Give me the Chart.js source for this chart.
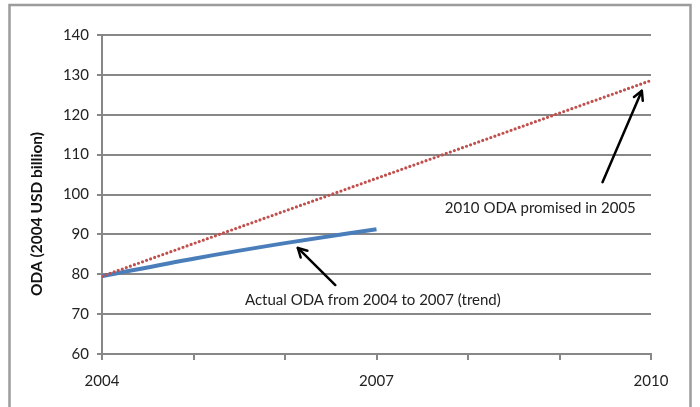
<!DOCTYPE html>
<html>
<head>
<meta charset="utf-8">
<script src="https://cdn.jsdelivr.net/npm/chart.js@4/dist/chart.umd.min.js"></script>
<style>
  html, body { margin: 0; padding: 0; background: #fff; }
  #wrap { width: 700px; height: 407px; }
</style>
</head>
<body>
<div id="wrap"><canvas id="c" width="700" height="407"></canvas></div>
<script>
// Years on the horizontal axis
const years = [2004, 2005, 2006, 2007, 2008, 2009, 2010];
const labelledYears = [2004, 2007, 2010];

// Actual ODA trend 2004-2007 (2004 USD billion)
const actualYears = [2004, 2005, 2006, 2007];
const actualODA = [79.5, 83.9, 87.8, 91.3];

// Promised path from 2004 level to the 2010 commitment
const promisedYears = [2004, 2010];
const promisedODA = [79.5, 128.6];

// Y axis range and step
const yMin = 60, yMax = 140, yStep = 10;

// Callout texts with their anchor (year, value) and arrows (tail -> tip)
const callouts = [
  { text: '2010 ODA promised in 2005', at: [2008.79, 96.6],
    from: [2009.47, 103.1], to: [2009.90, 126.0] },
  { text: 'Actual ODA from 2004 to 2007 (trend)', at: [2006.96, 73.4],
    from: [2006.55, 77.3], to: [2006.14, 86.6] }
];

const yTitle = 'ODA (2004 USD billion)';
const FONT = 'Lato, "Open Sans", sans-serif';
const GRID = '#878787';

const toXY = (xs, ys) => xs.map((x, i) => ({ x, y: ys[i] }));

const decorations = {
  id: 'decorations',
  beforeDraw(chart) {
    const ctx = chart.ctx;
    ctx.save();
    ctx.strokeStyle = '#9c9c9c';
    ctx.lineWidth = 2.5;
    ctx.strokeRect(9.5, 5, 681, 430);
    ctx.restore();
  },
  afterDraw(chart) {
    const ctx = chart.ctx;
    const sx = chart.scales.x, sy = chart.scales.y;
    ctx.save();
    // axis title
    ctx.fillStyle = '#111';
    ctx.font = 'bold 15.5px ' + FONT;
    ctx.textAlign = 'center';
    ctx.textBaseline = 'middle';
    ctx.translate(37, 214);
    ctx.rotate(-Math.PI / 2);
    ctx.fillText(yTitle, 0, 0);
    ctx.restore();

    ctx.save();
    for (const c of callouts) {
      const x1 = sx.getPixelForValue(c.from[0]), y1 = sy.getPixelForValue(c.from[1]);
      const x2 = sx.getPixelForValue(c.to[0]), y2 = sy.getPixelForValue(c.to[1]);
      ctx.strokeStyle = '#000';
      ctx.lineWidth = 2.5;
      ctx.lineCap = 'round';
      ctx.lineJoin = 'round';
      ctx.beginPath();
      ctx.moveTo(x1, y1);
      ctx.lineTo(x2, y2);
      ctx.stroke();
      const ang = Math.atan2(y2 - y1, x2 - x1);
      const L = 10, spread = 0.5;
      ctx.beginPath();
      ctx.moveTo(x2 - L * Math.cos(ang - spread), y2 - L * Math.sin(ang - spread));
      ctx.lineTo(x2, y2);
      ctx.lineTo(x2 - L * Math.cos(ang + spread), y2 - L * Math.sin(ang + spread));
      ctx.stroke();

      ctx.fillStyle = '#222';
      ctx.font = '15px ' + FONT;
      ctx.textAlign = 'center';
      ctx.textBaseline = 'middle';
      ctx.fillText(c.text, sx.getPixelForValue(c.at[0]), sy.getPixelForValue(c.at[1]));
    }
    ctx.restore();
  }
};

new Chart(document.getElementById('c'), {
  type: 'line',
  data: {
    datasets: [
      {
        label: 'Promised',
        data: toXY(promisedYears, promisedODA),
        borderColor: '#c0504d',
        borderWidth: 3.2,
        borderDash: [0, 4.3],
        borderCapStyle: 'round',
        pointRadius: 0,
        fill: false
      },
      {
        label: 'Actual',
        data: toXY(actualYears, actualODA),
        borderColor: '#4a7ebb',
        borderWidth: 4,
        cubicInterpolationMode: 'monotone',
        pointRadius: 0,
        fill: false
      }
    ]
  },
  options: {
    responsive: false,
    animation: false,
    layout: { padding: { left: 20, top: 35, right: 49, bottom: 0 } },
    plugins: { legend: { display: false }, tooltip: { enabled: false } },
    scales: {
      x: {
        type: 'linear',
        min: years[0],
        max: years[years.length - 1],
        afterBuildTicks(scale) { scale.ticks = years.map(v => ({ value: v })); },
        afterFit(scale) { scale.height = 53; },
        ticks: {
          autoSkip: false,
          maxRotation: 0,
          padding: 12,
          color: '#222',
          font: { family: FONT, size: 15 },
          callback: v => labelledYears.includes(v) ? String(v) : ''
        },
        grid: { drawOnChartArea: false, drawTicks: true, tickLength: 6, color: GRID, lineWidth: 2 },
        border: { display: true, color: GRID, width: 2 }
      },
      y: {
        min: yMin,
        max: yMax,
        afterFit(scale) { scale.width = 82; },
        ticks: {
          stepSize: yStep,
          padding: 8,
          color: '#222',
          font: { family: FONT, size: 15 }
        },
        grid: { drawTicks: true, tickLength: 5, color: GRID, lineWidth: 2 },
        border: { display: true, color: GRID, width: 2 }
      }
    }
  },
  plugins: [decorations]
});
</script>
</body>
</html>
